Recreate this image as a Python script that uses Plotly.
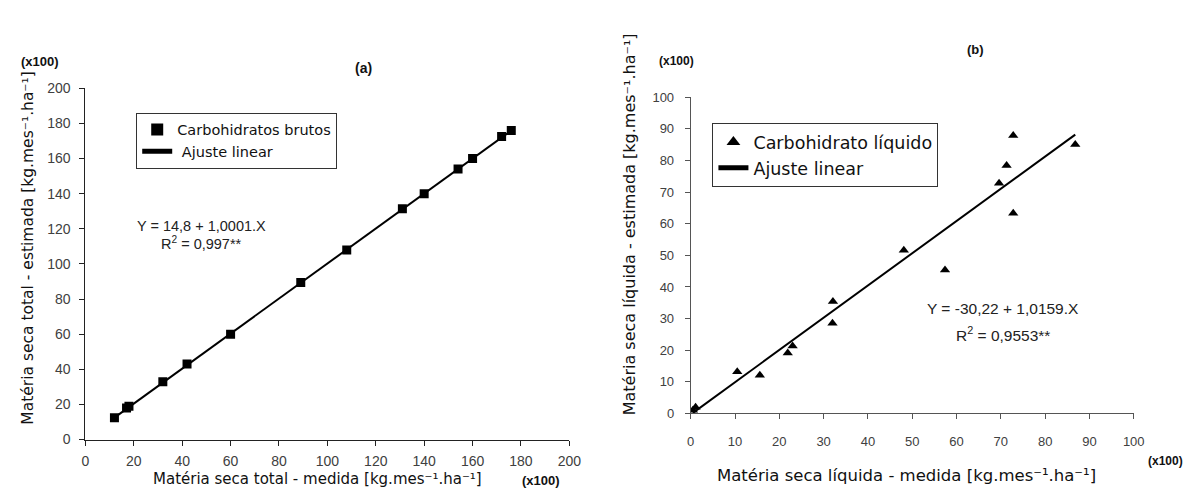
import plotly.graph_objects as go

# ---- Panel (a) data: Carbohidratos brutos (x100 kg.mes-1.ha-1)
a_measured = [12, 17, 18, 32, 42, 60, 89, 108, 131, 140, 154, 160, 172, 176]
a_estimated = [12.5, 18, 19, 33, 43, 60, 89.5, 108, 131.5, 140, 154, 160, 172.5, 176]
a_fit_x = [12, 176]
a_fit_y = [12.5, 176]

# ---- Panel (b) data: Carbohidrato líquido
b_measured = [0.5, 1.1, 10.5, 15.6, 21.9, 23.0, 32.0, 32.1, 48.1, 57.4, 69.6, 71.3, 72.8, 72.8, 86.8]
b_estimated = [1.0, 2.0, 13.2, 12.1, 19.1, 21.3, 28.5, 35.4, 51.6, 45.4, 72.8, 78.4, 87.9, 63.3, 85.1]
b_fit_x = [0.5, 86.8]
b_fit_y = [0.2, 88.2]

a_ticks = [0, 20, 40, 60, 80, 100, 120, 140, 160, 180, 200]
b_ticks = [0, 10, 20, 30, 40, 50, 60, 70, 80, 90, 100]

W, H = 1200, 495

def px(x):
    return x / W

def py(y):
    return 1 - y / H

fig = go.Figure()

fig.add_trace(go.Scatter(
    x=a_measured, y=a_estimated, mode="markers", name="Carbohidratos brutos",
    marker=dict(symbol="square", size=9, color="black"),
    xaxis="x", yaxis="y", legend="legend"))
fig.add_trace(go.Scatter(
    x=a_fit_x, y=a_fit_y, mode="lines", name=" Ajuste linear",
    line=dict(color="black", width=2),
    xaxis="x", yaxis="y", legend="legend"))

fig.add_trace(go.Scatter(
    x=b_measured, y=b_estimated, mode="markers", name="Carbohidrato líquido",
    marker=dict(symbol="triangle-up", size=9, color="black"),
    xaxis="x2", yaxis="y2", legend="legend2"))
fig.add_trace(go.Scatter(
    x=b_fit_x, y=b_fit_y, mode="lines", name="Ajuste linear",
    line=dict(color="black", width=2),
    xaxis="x2", yaxis="y2", legend="legend2"))

tick_a = dict(family="Liberation Sans, Arial, sans-serif", size=14, color="#404040")
tick_b = dict(family="Liberation Sans, Arial, sans-serif", size=13, color="#404040")

common = dict(showgrid=False, zeroline=False, showline=True, ticks="outside",
              ticklen=5, tickwidth=1)

fig.update_layout(
    autosize=True,
    margin=dict(l=0, r=0, t=0, b=0),
    paper_bgcolor="white", plot_bgcolor="white",
    xaxis=dict(domain=[px(82.5), px(573)], range=[0, 200], tickvals=a_ticks,
               anchor="y", linecolor="#222", tickcolor="#222", tickfont=tick_a,
               ticklabelstandoff=4, **common),
    yaxis=dict(domain=[py(446), py(83)], range=[0, 200], tickvals=a_ticks,
               anchor="x", linecolor="#222", tickcolor="#222", tickfont=tick_a,
               ticklabelstandoff=6, **common),
    xaxis2=dict(domain=[px(696), px(1145)], range=[0, 100], tickvals=b_ticks,
                anchor="y2", linecolor="#555", tickcolor="#555", tickfont=tick_b,
                ticklabelstandoff=11, **common),
    yaxis2=dict(domain=[py(419), py(92.3)], range=[0, 100], tickvals=b_ticks,
                anchor="x2", linecolor="#555", tickcolor="#555", tickfont=tick_b,
                ticklabelstandoff=8, **common),
    legend=dict(x=px(134), y=py(108), xanchor="left", yanchor="top",
                bordercolor="#333", borderwidth=1, bgcolor="white",
                font=dict(family="DejaVu Sans", size=14.5, color="#111"),
                tracegroupgap=0, itemsizing="constant", entrywidth=230),
    legend2=dict(x=px(718), y=py(119), xanchor="left", yanchor="top",
                 bordercolor="#333", borderwidth=1, bgcolor="white",
                 font=dict(family="DejaVu Sans", size=17.5, color="#111"),
                 tracegroupgap=0, itemsizing="constant", entrywidth=222),
    showlegend=True,
)

ann = []
def A(text, x, y, size, family="DejaVu Sans", bold=False, angle=0, color="#111", xanchor="center"):
    t = f"<b>{text}</b>" if bold else text
    ann.append(dict(text=t, x=px(x), y=py(y), xref="paper", yref="paper",
                    showarrow=False, textangle=angle, xanchor=xanchor, yanchor="middle",
                    font=dict(family=family, size=size, color=color)))

ARIAL = "Liberation Sans, Arial, sans-serif"

# Panel (a) labels
A("(a)", 364, 62, 14, family=ARIAL, bold=True)
A("(x100)", 36, 55, 13, family=ARIAL, bold=True)
A("(x100)", 544, 488, 13, family=ARIAL, bold=True)
A("Matéria seca total - estimada [kg.mes⁻¹.ha⁻¹]", 24, 248, 15.5, angle=-90)
A("Matéria seca total - medida [kg.mes⁻¹.ha⁻¹]", 318, 487, 15)
A("Y = 14,8 + 1,0001.X", 200, 225, 14.5, family=ARIAL, color="#222")
A("R<sup>2</sup> = 0,997**", 200, 243, 14.5, family=ARIAL, color="#222")

# Panel (b) labels
A("(b)", 985, 43, 13, family=ARIAL, bold=True)
A("(x100)", 682, 55, 12, family=ARIAL, bold=True)
A("(x100)", 1177, 468, 12, family=ARIAL, bold=True)
A("Matéria seca líquida - estimada [kg.mes⁻¹.ha⁻¹]", 634, 224, 16, angle=-90)
A("Matéria seca líquida - medida [kg.mes⁻¹.ha⁻¹]", 915, 483, 16.5)
A("Y = -30,22 + 1,0159.X", 1012, 311, 15.5, family=ARIAL, color="#222")
A("R<sup>2</sup> = 0,9553**", 1012, 337, 15.5, family=ARIAL, color="#222")

fig.update_layout(annotations=ann)

fig.write_html(
    "out.html",
    config={"displayModeBar": False, "responsive": True},
    default_width="100vw",
    default_height="100vh",
    post_script=(
        "document.documentElement.style.margin='0';"
        "document.body.style.margin='0';"
        "document.body.style.overflow='hidden';"
        "document.documentElement.style.overflow='hidden';"
        "Plotly.Plots.resize(document.getElementById('{plot_id}'));"
    ),
)
